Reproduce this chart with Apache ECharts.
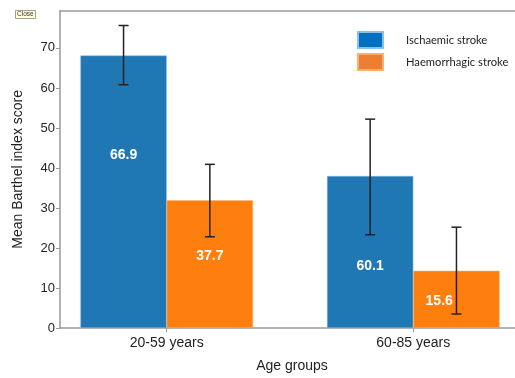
<!DOCTYPE html>
<html>
<head>
<meta charset="utf-8">
<script src="https://cdn.jsdelivr.net/npm/echarts@6/dist/echarts.min.js"></script>
<style>
html,body{margin:0;padding:0;background:#fff;}
#chart{width:515px;height:378px;}
</style>
</head>
<body>
<div id="chart"></div>
<script>
// ---- data ----
var categories = ['20-59 years', '60-85 years'];
var seriesNames = ['Ischaemic stroke', 'Haemorrhagic stroke'];
var ischaemicMean = [68.1, 38.0];
var ischaemicLow = [60.8, 23.3];
var ischaemicHigh = [75.6, 52.2];
var haemorrhagicMean = [31.9, 14.3];
var haemorrhagicLow = [22.8, 3.5];
var haemorrhagicHigh = [40.9, 25.2];
var ischaemicLabels = ['66.9', '60.1'];
var haemorrhagicLabels = ['37.7', '15.6'];
var yTicks = [0, 10, 20, 30, 40, 50, 60, 70];

// ---- style / layout ----
var BAR_W = 86.3;
var barColors = ['#1f77b4', '#ff7f0e'];
var legendColors = ['#0070C0', '#ED7D31'];
var ischLabelPos = [['50%', '36.7%'], ['50%', '59%']];
var haemLabelPos = [['50%', '44%'], ['30%', '53%']];
var FONT = 'Liberation Sans, Arial, sans-serif';
var X_MIN = -0.4327, X_MAX = 1.4124;

var chart = echarts.init(document.getElementById('chart'), null, {renderer: 'canvas'});

function barData(vals, pos) {
  return vals.map(function (v, i) {
    return {value: [i, v], label: {position: pos[i]}};
  });
}
function errData(low, high) {
  return low.map(function (l, i) { return [i, l, high[i]]; });
}
function errRender(shift) {
  return function (params, api) {
    var x = api.value(0);
    var hi = api.coord([x, api.value(2)]);
    var lo = api.coord([x, api.value(1)]);
    var px = hi[0] + shift;
    var cap = 5;
    var st = {stroke: '#222', lineWidth: 1.5};
    return {
      type: 'group',
      children: [
        {type: 'line', shape: {x1: px, y1: hi[1], x2: px, y2: lo[1]}, style: st},
        {type: 'line', shape: {x1: px - cap, y1: hi[1], x2: px + cap, y2: hi[1]}, style: st},
        {type: 'line', shape: {x1: px - cap, y1: lo[1], x2: px + cap, y2: lo[1]}, style: st}
      ]
    };
  };
}

var labelStyle = {
  show: true,
  color: '#fff',
  fontWeight: 'bold',
  fontSize: 14,
  fontFamily: FONT,
  align: 'center',
  verticalAlign: 'middle'
};

var option = {
  animation: false,
  backgroundColor: '#fff',
  title: {
    text: 'Close',
    left: 15,
    top: 10,
    padding: [1, 2],
    backgroundColor: '#ffffe1',
    borderColor: '#a8a080',
    borderWidth: 1,
    textStyle: {fontSize: 6.5, lineHeight: 7, fontWeight: 'normal', color: '#333', fontFamily: FONT}
  },
  legend: {
    orient: 'vertical',
    left: 357,
    top: 31,
    itemWidth: 25,
    itemHeight: 16,
    itemGap: 4,
    icon: 'rect',
    padding: 0,
    textStyle: {fontSize: 11.2, fontFamily: 'Lato, Open Sans, sans-serif', color: '#222', padding: [0, 0, 0, 18]},
    data: [
      {name: seriesNames[0], itemStyle: {color: legendColors[0]}},
      {name: seriesNames[1], itemStyle: {color: legendColors[1]}}
    ]
  },
  grid: {
    left: 60, right: 0, top: 10.7, bottom: 47,
    containLabel: false
  },
  xAxis: [{
    type: 'value',
    min: X_MIN,
    max: X_MAX,
    name: 'Age groups',
    nameLocation: 'middle',
    nameGap: 31,
    nameTextStyle: {fontSize: 14, fontFamily: FONT, color: '#222', padding: [0, 0, 0, 9]},
    splitLine: {show: false},
    axisLine: {show: true, onZero: false, lineStyle: {color: '#999', width: 1.5}},
    axisTick: {show: true, length: 4, customValues: [0, 1], lineStyle: {color: '#999'}},
    axisLabel: {
      customValues: [0, 1],
      margin: 8,
      fontSize: 14,
      fontFamily: FONT,
      color: '#222',
      formatter: function (v) { return categories[Math.round(v)]; }
    }
  }, {
    type: 'value',
    position: 'top',
    min: X_MIN,
    max: X_MAX,
    splitLine: {show: false},
    axisLine: {show: true, onZero: false, lineStyle: {color: '#999', width: 1.5}},
    axisTick: {show: false},
    axisLabel: {show: false}
  }],
  yAxis: {
    type: 'value',
    min: 0,
    max: 79.3,
    interval: 10,
    name: 'Mean Barthel index score',
    nameLocation: 'middle',
    nameGap: 35,
    nameTextStyle: {fontSize: 14, fontFamily: FONT, color: '#222'},
    splitLine: {show: false},
    axisLine: {show: true, onZero: false, lineStyle: {color: '#999', width: 1.5}},
    axisTick: {show: true, length: 4, customValues: yTicks, lineStyle: {color: '#999'}},
    axisLabel: {
      customValues: yTicks,
      margin: 5,
      fontSize: 13,
      fontFamily: 'Liberation Sans Narrow, Arial Narrow, ' + FONT,
      color: '#222'
    }
  },
  series: [
    {
      name: seriesNames[0],
      type: 'bar',
      barWidth: BAR_W,
      barGap: '0%',
      itemStyle: {color: barColors[0], borderColor: '#8fbfe0', borderWidth: 0.5},
      label: Object.assign({}, labelStyle, {formatter: function (p) { return ischaemicLabels[p.dataIndex]; }}),
      data: barData(ischaemicMean, ischLabelPos),
      z: 2
    },
    {
      name: seriesNames[1],
      type: 'bar',
      barWidth: BAR_W,
      barGap: '0%',
      itemStyle: {color: barColors[1], borderColor: '#ffb070', borderWidth: 0.5},
      label: Object.assign({}, labelStyle, {formatter: function (p) { return haemorrhagicLabels[p.dataIndex]; }}),
      data: barData(haemorrhagicMean, haemLabelPos),
      z: 2
    },
    {
      type: 'custom',
      name: 'ischErr',
      renderItem: errRender(-BAR_W / 2),
      data: errData(ischaemicLow, ischaemicHigh),
      encode: {x: 0, y: [1, 2]},
      z: 5,
      silent: true
    },
    {
      type: 'custom',
      name: 'haemErr',
      renderItem: errRender(BAR_W / 2),
      data: errData(haemorrhagicLow, haemorrhagicHigh),
      encode: {x: 0, y: [1, 2]},
      z: 5,
      silent: true
    }
  ]
};
chart.setOption(option);
</script>
</body>
</html>
